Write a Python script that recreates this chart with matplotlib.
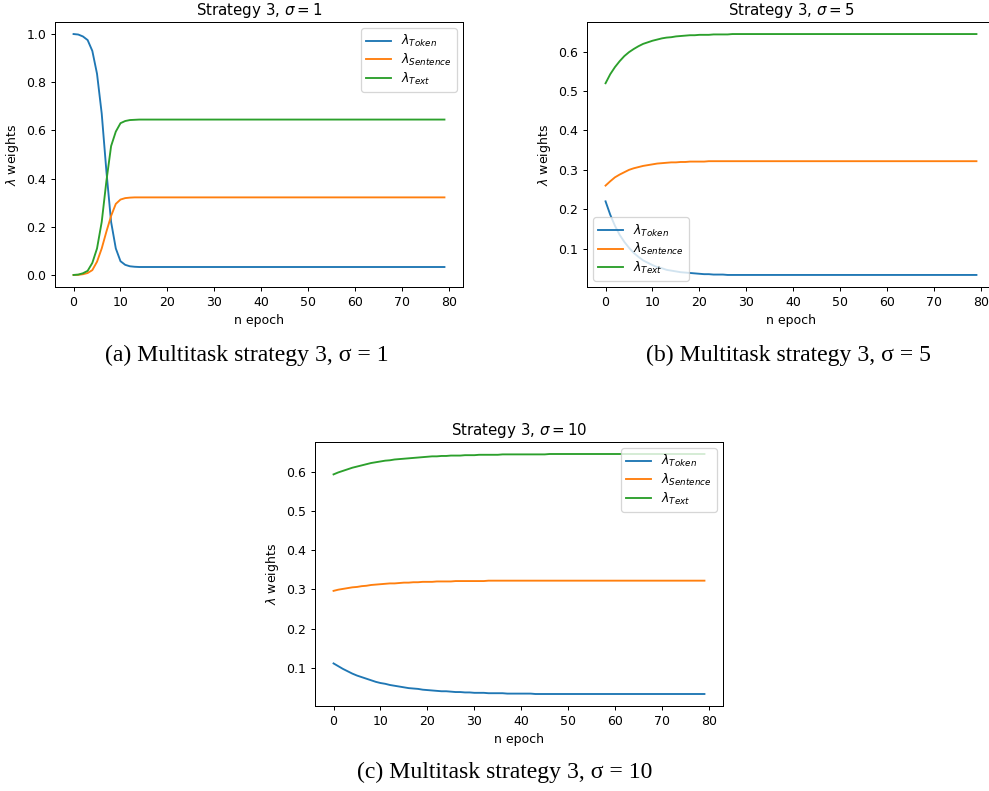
import matplotlib
matplotlib.use("Agg")
import matplotlib.pyplot as plt

# ---- data: lambda weights per training epoch ----
epochs = list(range(80))

# sigma = 1
token_s1 = [1.000, 0.998, 0.990, 0.975, 0.930, 0.835, 0.670, 0.430, 0.220, 0.110,
            0.057, 0.042, 0.036, 0.034, 0.033] + [0.033] * 65
sentence_s1 = [0.000, 0.0005, 0.003, 0.008, 0.020, 0.055, 0.110, 0.180, 0.245, 0.295,
               0.313, 0.319, 0.321, 0.322, 0.322] + [0.322] * 65
text_s1 = [0.000, 0.0015, 0.007, 0.017, 0.050, 0.110, 0.220, 0.390, 0.535, 0.595,
           0.630, 0.639, 0.643, 0.644, 0.645] + [0.645] * 65

# sigma = 5
token_s5 = [0.220, 0.186, 0.158, 0.135, 0.117, 0.102, 0.089, 0.079, 0.070, 0.064,
            0.058, 0.053, 0.050, 0.046, 0.044, 0.042, 0.040, 0.039, 0.038, 0.037,
            0.036, 0.035, 0.035, 0.034, 0.034, 0.034, 0.033, 0.033] + [0.033] * 52
sentence_s5 = [0.260, 0.271, 0.281, 0.288, 0.294, 0.300, 0.304, 0.307, 0.310, 0.312,
               0.314, 0.316, 0.317, 0.318, 0.319, 0.319, 0.320, 0.320, 0.321, 0.321,
               0.321, 0.321] + [0.322] * 58
text_s5 = [0.520, 0.543, 0.561, 0.576, 0.589, 0.599, 0.607, 0.614, 0.620, 0.624,
           0.628, 0.631, 0.634, 0.636, 0.637, 0.639, 0.640, 0.641, 0.642, 0.642,
           0.643, 0.643, 0.643, 0.644, 0.644, 0.644, 0.644] + [0.645] * 53

# sigma = 10
token_s10 = [0.111, 0.104, 0.097, 0.091, 0.085, 0.080, 0.076, 0.072, 0.068, 0.064,
             0.061, 0.059, 0.056, 0.054, 0.052, 0.050, 0.048, 0.047, 0.046, 0.044,
             0.043, 0.042, 0.041, 0.040, 0.040, 0.039, 0.038, 0.038, 0.037, 0.037,
             0.036, 0.036, 0.036, 0.035, 0.035, 0.035, 0.035, 0.034, 0.034, 0.034,
             0.034, 0.034, 0.034, 0.033, 0.033, 0.033] + [0.033] * 34
sentence_s10 = [0.296, 0.299, 0.301, 0.303, 0.305, 0.306, 0.308, 0.309, 0.311, 0.312,
                0.313, 0.314, 0.315, 0.315, 0.316, 0.317, 0.317, 0.318, 0.318, 0.319,
                0.319, 0.319, 0.320, 0.320, 0.320, 0.320, 0.321, 0.321, 0.321, 0.321,
                0.321, 0.321, 0.321, 0.322, 0.322, 0.322] + [0.322] * 44
text_s10 = [0.593, 0.598, 0.602, 0.606, 0.610, 0.613, 0.616, 0.619, 0.622, 0.624,
            0.626, 0.628, 0.629, 0.631, 0.632, 0.633, 0.634, 0.635, 0.636, 0.637,
            0.638, 0.639, 0.639, 0.640, 0.640, 0.641, 0.641, 0.641, 0.642, 0.642,
            0.642, 0.643, 0.643, 0.643, 0.643, 0.643, 0.644, 0.644, 0.644, 0.644,
            0.644, 0.644, 0.644, 0.644, 0.644, 0.644] + [0.645] * 34

series_labels = [r"$\lambda_{Token}$", r"$\lambda_{Sentence}$", r"$\lambda_{Text}$"]
sigmas = [1, 5, 10]
captions = ["(a) Multitask strategy 3, σ = 1",
            "(b) Multitask strategy 3, σ = 5",
            "(c) Multitask strategy 3, σ = 10"]

DPI = 90
W, H = 989, 791
fig = plt.figure(figsize=(W / DPI, H / DPI), dpi=DPI)


def px_axes(left, top, right, bottom):
    return fig.add_axes([left / W, 1 - bottom / H, (right - left) / W, (bottom - top) / H])


panels = [
    (px_axes(55, 22, 463, 287), (token_s1, sentence_s1, text_s1), "upper right"),
    (px_axes(587, 22, 995, 287), (token_s5, sentence_s5, text_s5), "lower left"),
    (px_axes(315, 442, 723, 706), (token_s10, sentence_s10, text_s10), "upper right"),
]

for (ax, data, loc), sigma in zip(panels, sigmas):
    for values, lab in zip(data, series_labels):
        ax.plot(epochs, values, label=lab)
    ax.set_title(r"Strategy 3, $\sigma = %d$" % sigma)
    ax.set_xlabel("n epoch")
    ax.set_ylabel(r"$\lambda$ weights")
    ax.set_xticks(range(0, 81, 10))
    ax.legend(loc=loc, labelspacing=0.2)

cap_kw = dict(ha="center", va="center", fontsize=19, family="Liberation Serif")
fig.text(247 / W, 1 - 355 / H, captions[0], **cap_kw)
fig.text(788 / W, 1 - 355 / H, captions[1], **cap_kw)
fig.text(505 / W, 1 - 772 / H, captions[2], **cap_kw)

fig.savefig("out.png", dpi=DPI)
